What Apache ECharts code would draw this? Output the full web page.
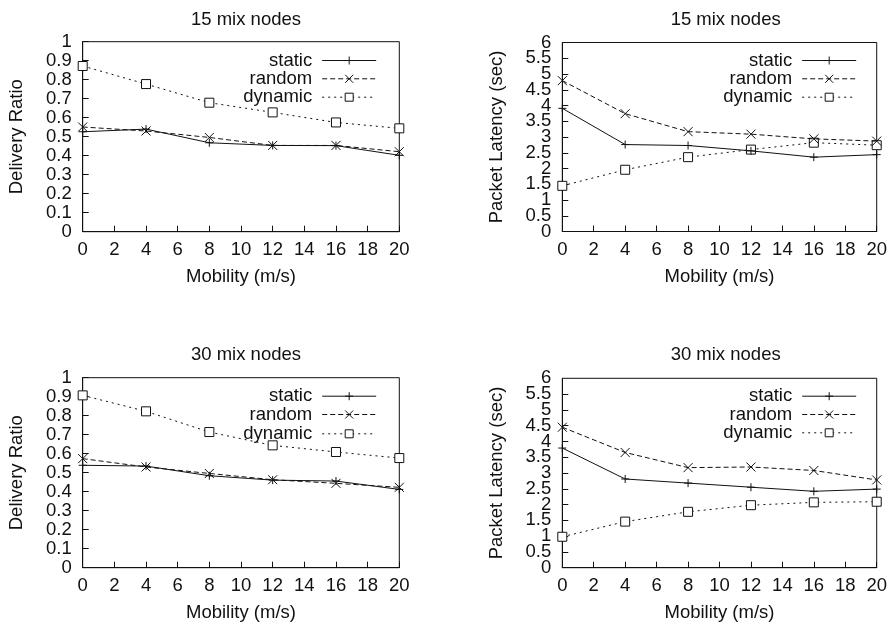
<!DOCTYPE html>
<html>
<head>
<meta charset="utf-8">
<script src="https://cdn.jsdelivr.net/npm/echarts@6/dist/echarts.min.js"></script>
<style>
html,body{margin:0;padding:0;background:#fff;}
#main{width:890px;height:628px;}
</style>
</head>
<body>
<div id="main"></div>
<script>
// ---- data ----
const mobility = [0, 4, 8, 12, 16, 20];
const seriesNames = ['static', 'random', 'dynamic'];
const panelTitles = ['15 mix nodes', '15 mix nodes', '30 mix nodes', '30 mix nodes'];
const yAxisNames = ['Delivery Ratio', 'Packet Latency (sec)', 'Delivery Ratio', 'Packet Latency (sec)'];
const xAxisName = 'Mobility (m/s)';

const dr15Static  = [0.526, 0.540, 0.468, 0.454, 0.453, 0.402];
const dr15Random  = [0.551, 0.530, 0.496, 0.454, 0.454, 0.421];
const dr15Dynamic = [0.872, 0.777, 0.679, 0.628, 0.575, 0.544];

const lat15Static  = [3.91, 2.76, 2.73, 2.56, 2.36, 2.44];
const lat15Random  = [4.79, 3.74, 3.17, 3.09, 2.94, 2.87];
const lat15Dynamic = [1.45, 1.96, 2.36, 2.60, 2.82, 2.74];

const dr30Static  = [0.539, 0.535, 0.484, 0.461, 0.456, 0.412];
const dr30Random  = [0.574, 0.530, 0.496, 0.463, 0.444, 0.423];
const dr30Dynamic = [0.907, 0.823, 0.714, 0.644, 0.609, 0.577];

const lat30Static  = [3.79, 2.81, 2.68, 2.55, 2.42, 2.49];
const lat30Random  = [4.45, 3.65, 3.17, 3.19, 3.08, 2.78];
const lat30Dynamic = [0.98, 1.46, 1.77, 1.98, 2.07, 2.09];

const panelData = [
  [dr15Static, dr15Random, dr15Dynamic],
  [lat15Static, lat15Random, lat15Dynamic],
  [dr30Static, dr30Random, dr30Dynamic],
  [lat30Static, lat30Random, lat30Dynamic]
];
const yMax = [1, 6, 1, 6];
const yInterval = [0.1, 0.5, 0.1, 0.5];

// ---- layout / style ----
const FONT = 'Liberation Sans, Arial, Helvetica, sans-serif';
const FS = 18.5;
const INK = '#111';
const grids = [
  {left: 82.7, top: 41.7, width: 316.6, height: 190},
  {left: 562.3, top: 42.5, width: 316.7, height: 189},
  {left: 82.7, top: 377.7, width: 316.6, height: 190},
  {left: 562.3, top: 378.3, width: 316.7, height: 189.4}
];
const titleTops = [5, 5, 340, 340];
const legendRight = [513.3, 33.3, 513.3, 33.3];
const legendRows = [[60, 78.3, 96.7], [60, 78.3, 96.7], [395.7, 414, 433.3], [395.7, 414, 432.3]];

const seriesStyle = {
  'static':  {symbol: 'path://M5,0L5,10M0,5L10,5', symbolSize: 8, type: 'solid', fill: INK},
  'random':  {symbol: 'path://M0,0L10,10M10,0L0,10', symbolSize: 9, type: [5, 3], fill: INK},
  'dynamic': {symbol: 'path://M0,0L10,0L10,10L0,10Z', symbolSize: 9, type: [2, 4], fill: '#fff'}
};

const option = {
  backgroundColor: '#fff',
  animation: false,
  title: [], grid: [], xAxis: [], yAxis: [], legend: [], series: []
};

const isHalf = v => Math.abs(v - Math.round(v)) > 1e-6;

grids.forEach((g, i) => {
  option.title.push({
    text: panelTitles[i],
    left: g.left + g.width / 2, top: titleTops[i], textAlign: 'center',
    textStyle: {fontFamily: FONT, fontSize: FS, fontWeight: 'normal', color: INK}
  });
  option.grid.push({
    left: g.left, top: g.top, width: g.width, height: g.height,
    show: true, borderColor: INK, borderWidth: 1, backgroundColor: 'transparent'
  });
  option.xAxis.push({
    type: 'value', gridIndex: i, min: 0, max: 20, interval: 2,
    name: xAxisName, nameLocation: 'middle', nameGap: 36,
    nameTextStyle: {fontFamily: FONT, fontSize: FS, color: INK},
    axisLine: {show: true, lineStyle: {color: INK, width: 1}},
    axisTick: {show: true, inside: true, length: 6, lineStyle: {color: INK}},
    axisLabel: {fontFamily: FONT, fontSize: FS, color: INK, margin: 9,
                showMinLabel: true, showMaxLabel: true, hideOverlap: false},
    splitLine: {show: false}
  });
  const dense = yInterval[i] === 0.5;
  const mainIdx = option.yAxis.length;
  option.yAxis.push({
    type: 'value', gridIndex: i, min: 0, max: yMax[i], interval: yInterval[i],
    name: yAxisNames[i], nameLocation: 'middle', nameGap: 56, nameRotate: 90,
    nameTextStyle: {fontFamily: FONT, fontSize: FS, color: INK},
    axisLine: {show: true, lineStyle: {color: INK, width: 1}},
    axisTick: {show: true, inside: true, length: 6, lineStyle: {color: INK}},
    axisLabel: dense ? {
      fontFamily: FONT, fontSize: FS, color: INK, margin: 11,
      showMinLabel: false, showMaxLabel: false, hideOverlap: false,
      formatter: v => isHalf(v) ? String(v) : ''
    } : {
      fontFamily: FONT, fontSize: FS, color: INK, margin: 11,
      showMinLabel: true, showMaxLabel: true, hideOverlap: false
    },
    splitLine: {show: false}
  });
  if (dense) {
    // integer labels drawn by a companion axis on the same scale
    option.yAxis.push({
      type: 'value', gridIndex: i, min: 0, max: yMax[i], interval: 1, position: 'left',
      axisLine: {show: false}, axisTick: {show: false}, splitLine: {show: false},
      axisLabel: {fontFamily: FONT, fontSize: FS, color: INK, margin: 11,
                  showMinLabel: true, showMaxLabel: true, hideOverlap: false}
    });
  }
  seriesNames.forEach((name, k) => {
    const st = seriesStyle[name];
    option.series.push({
      type: 'line', name: name, xAxisIndex: i, yAxisIndex: mainIdx,
      data: mobility.map((x, j) => [x, panelData[i][k][j]]),
      symbol: st.symbol, symbolSize: st.symbolSize, showAllSymbol: true,
      lineStyle: {color: INK, width: 1, type: st.type},
      itemStyle: {color: st.fill, borderColor: INK, borderWidth: 1},
      z: 3 - k
    });
    option.legend.push({
      data: [name], orient: 'vertical', align: 'right',
      right: legendRight[i], top: legendRows[i][k] - 9,
      padding: 0, itemWidth: 54, itemHeight: 10,
      selectedMode: false,
      lineStyle: {width: 1, color: INK},
      itemStyle: {borderWidth: 1, borderColor: INK},
      textStyle: {fontFamily: FONT, fontSize: FS, color: INK, lineHeight: 18, padding: [0, 5, 0, 0]}
    });
  });
});

const chart = echarts.init(document.getElementById('main'), null, {renderer: 'canvas'});
chart.setOption(option);
</script>
</body>
</html>
